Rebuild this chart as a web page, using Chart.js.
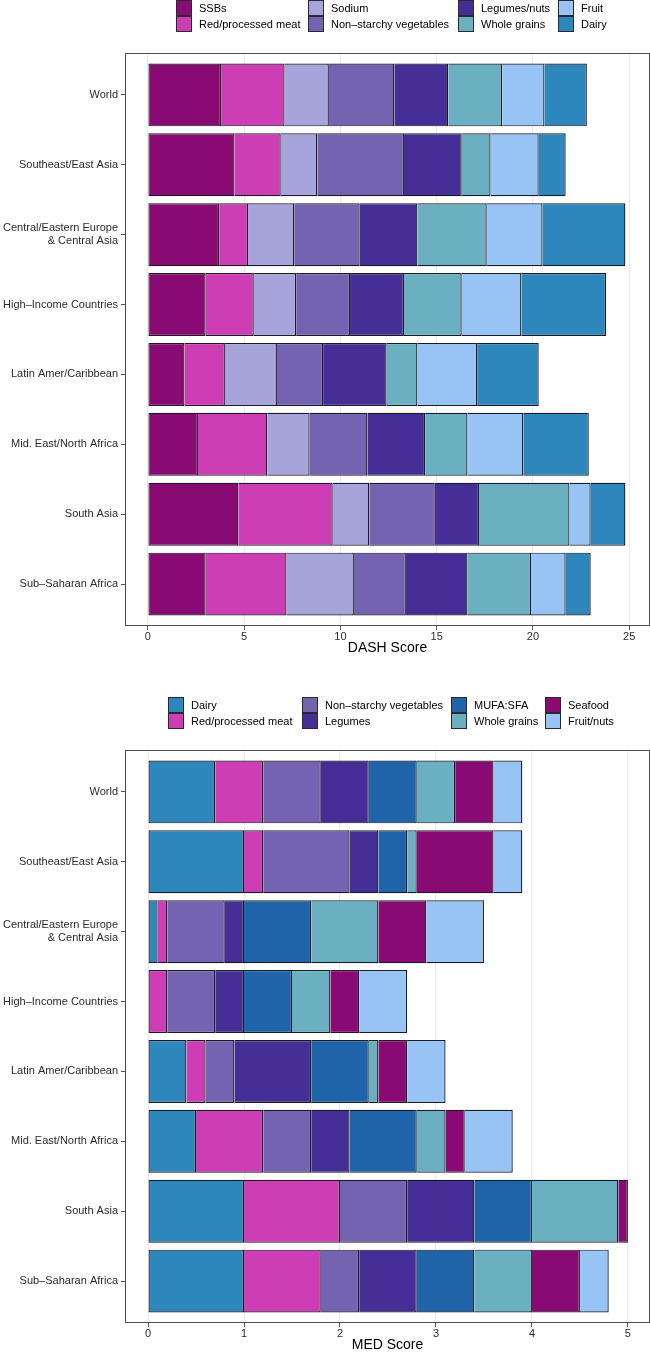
<!DOCTYPE html>
<html>
<head>
<meta charset="utf-8">
<script src="https://cdn.jsdelivr.net/npm/chart.js@4.4.0/dist/chart.umd.min.js"></script>
<style>
  body { margin: 0; background: #fff; font-family: "Liberation Sans", Arial, sans-serif; }
  .panel { position: relative; width: 650px; height: 658px; }
  #panel2 { margin-top: 39px; }
  .panel canvas { position: absolute; left: 0; top: 0; }
  .key { position: absolute; height: 16px; line-height: 16px; font-size: 11px; color: #000; white-space: nowrap; z-index: 2; }
  .key .sw { position: absolute; left: 0; top: 0; width: 16px; height: 16px; box-sizing: border-box; border: 1px solid #2a2a2a; }
  .key .tx { position: absolute; left: 23px; top: 0; }
</style>
</head>
<body>
<div class="panel" id="panel1"><canvas id="dash" width="650" height="658"></canvas></div>
<div class="panel" id="panel2"><canvas id="med" width="650" height="658"></canvas></div>
<script>
// regions (y categories)
var regions = ['World', 'Southeast/East Asia', ['Central/Eastern Europe', '& Central Asia'],
  'High–Income Countries', 'Latin Amer/Caribbean', 'Mid. East/North Africa', 'South Asia', 'Sub–Saharan Africa'];

// DASH components
var dashNames = ['SSBs', 'Red/processed meat', 'Sodium', 'Non–starchy vegetables', 'Legumes/nuts', 'Whole grains', 'Fruit', 'Dairy'];
var ssb      = [3.8, 4.5, 3.7, 3.0, 1.9, 2.6, 4.7, 3.0];
var redMeatD = [3.3, 2.4, 1.5, 2.5, 2.1, 3.6, 4.9, 4.2];
var sodium   = [2.3, 1.9, 2.4, 2.2, 2.7, 2.2, 1.9, 3.5];
var vegD     = [3.4, 4.5, 3.4, 2.8, 2.4, 3.0, 3.4, 2.7];
var legNuts  = [2.8, 3.0, 3.0, 2.8, 3.3, 3.0, 2.3, 3.2];
var grainsD  = [2.8, 1.5, 3.6, 3.0, 1.6, 2.2, 4.7, 3.3];
var fruit    = [2.2, 2.5, 2.9, 3.1, 3.1, 2.9, 1.1, 1.8];
var dairyD   = [2.2, 1.4, 4.3, 4.4, 3.2, 3.4, 1.8, 1.3];
var dashTicks = [0, 5, 10, 15, 20, 25];

// MED components
var medNames = ['Dairy', 'Red/processed meat', 'Non–starchy vegetables', 'Legumes', 'MUFA:SFA', 'Whole grains', 'Seafood', 'Fruit/nuts'];
var dairyM    = [0.7, 1.0, 0.1, 0.0, 0.4, 0.5, 1.0, 1.0];
var redMeatM  = [0.5, 0.2, 0.1, 0.2, 0.2, 0.7, 1.0, 0.8];
var vegM      = [0.6, 0.9, 0.6, 0.5, 0.3, 0.5, 0.7, 0.4];
var legumes   = [0.5, 0.3, 0.2, 0.3, 0.8, 0.4, 0.7, 0.6];
var mufaSfa   = [0.5, 0.3, 0.7, 0.5, 0.6, 0.7, 0.6, 0.6];
var grainsM   = [0.4, 0.1, 0.7, 0.4, 0.1, 0.3, 0.9, 0.6];
var seafood   = [0.4, 0.8, 0.5, 0.3, 0.3, 0.2, 0.1, 0.5];
var fruitNuts = [0.3, 0.3, 0.6, 0.5, 0.4, 0.5, 0.0, 0.3];
var medTicks = [0, 1, 2, 3, 4, 5];

// colours
var cMagenta = '#8a0a74', cPink = '#cd3db4', cLilac = '#a7a4dc', cPurple = '#7463b0',
    cIndigo = '#452e96', cTeal = '#6ab0c0', cSky = '#97c4f4', cBlue = '#2e87bc', cNavy = '#1f63a8';

var frame = {
  id: 'frame',
  afterDraw: function (chart) {
    var a = chart.chartArea, ctx = chart.ctx;
    ctx.save();
    ctx.strokeStyle = '#4d4d4d';
    ctx.lineWidth = 1;
    ctx.strokeRect(Math.round(a.left) + 0.5, Math.round(a.top) + 0.5,
      Math.round(a.right - a.left) - 1, Math.round(a.bottom - a.top) - 1);
    ctx.restore();
  }
};

function legend(panelId, names, colors, cols) {
  var panel = document.getElementById(panelId);
  names.forEach(function (n, k) {
    var d = document.createElement('div');
    d.className = 'key';
    d.style.left = cols[Math.floor(k / 2)] + 'px';
    d.style.top = (k % 2) * 16 + 'px';
    d.innerHTML = '<span class="sw" style="background:' + colors[k] + '"></span><span class="tx"></span>';
    d.querySelector('.tx').textContent = n;
    panel.appendChild(d);
  });
}

function makeChart(id, names, series, colors, xMin, xMax, xTicks, title) {
  var datasets = series.map(function (vals, s) {
    return {
      label: names[s],
      data: vals.map(function (v, j) { return { x: v, y: j }; }),
      backgroundColor: colors[s],
      borderColor: '#1a1a24',
      borderSkipped: false,
      borderWidth: function (ctx) {
        var i = ctx.dataIndex, before = 0;
        for (var k = 0; k < ctx.datasetIndex; k++) before += series[k][i];
        return { top: 1.2, bottom: 1.2, right: 1.3, left: before === 0 ? 1.2 : 0 };
      },
      categoryPercentage: 0.9,
      barPercentage: 1
    };
  });

  return new Chart(document.getElementById(id), {
    type: 'bar',
    data: { datasets: datasets },
    options: {
      indexAxis: 'y',
      responsive: false,
      animation: false,
      layout: { padding: { top: 53, right: 0, bottom: 0, left: 0 } },
      plugins: { legend: { display: false }, tooltip: { enabled: false } },
      scales: {
        x: {
          type: 'linear', stacked: true, min: xMin, max: xMax, offset: false,
          afterBuildTicks: function (axis) { axis.ticks = xTicks.map(function (v) { return { value: v }; }); },
          afterFit: function (axis) { axis.height = 32; },
          grid: { color: '#ebebeb', tickColor: '#555', tickLength: 4, offset: false },
          border: { display: false },
          ticks: { color: '#2b2b2b', padding: 0, font: { family: 'Liberation Sans', size: 11 } },
          title: { display: true, text: title, color: '#000', padding: { top: 0, bottom: 1 },
                   font: { family: 'Liberation Sans', size: 14 } }
        },
        y: {
          type: 'linear', stacked: true, reverse: true, min: -0.6, max: 7.6, offset: false,
          afterBuildTicks: function (axis) { axis.ticks = regions.map(function (r, i) { return { value: i }; }); },
          afterFit: function (axis) { axis.width = 125; },
          grid: { drawOnChartArea: false, tickColor: '#555', tickLength: 4, offset: false },
          border: { display: false },
          ticks: {
            color: '#2b2b2b', padding: 3, font: { family: 'Liberation Sans', size: 11 },
            callback: function (v) { return regions[v]; }
          }
        }
      }
    },
    plugins: [frame]
  });
}

var dashColors = [cMagenta, cPink, cLilac, cPurple, cIndigo, cTeal, cSky, cBlue];
var medColors = [cBlue, cPink, cPurple, cIndigo, cNavy, cTeal, cMagenta, cSky];

makeChart('dash', dashNames, [ssb, redMeatD, sodium, vegD, legNuts, grainsD, fruit, dairyD],
  dashColors, -1.19, 26.08, dashTicks, 'DASH Score');
makeChart('med', medNames, [dairyM, redMeatM, vegM, legumes, mufaSfa, grainsM, seafood, fruitNuts],
  medColors, -0.24, 5.23, medTicks, 'MED Score');

legend('panel1', dashNames, dashColors, [176, 308, 458, 558]);
legend('panel2', medNames, medColors, [168, 302, 451, 545]);
</script>
</body>
</html>
